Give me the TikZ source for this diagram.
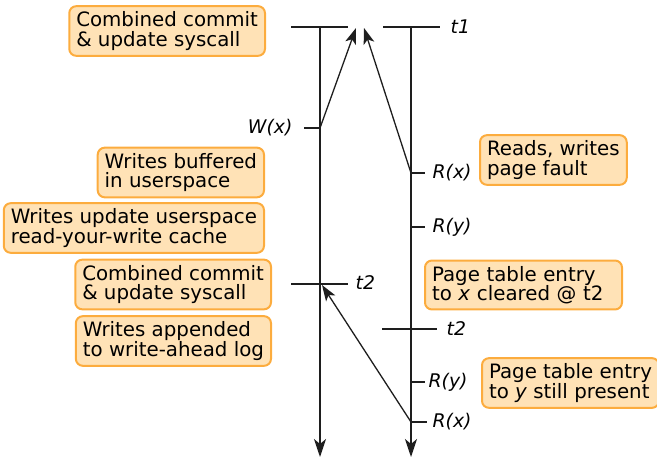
\documentclass[tikz,border=0pt]{standalone}
\usepackage{fontspec}
\setmainfont{DejaVu Sans}
\usetikzlibrary{arrows.meta}
\definecolor{noteedge}{RGB}{252,172,62}
\definecolor{notefill}{RGB}{255,226,182}
\definecolor{ink}{RGB}{30,30,30}
\begin{document}
\begin{tikzpicture}[x=1pt,y=-1pt,line width=1.3pt,
  note/.style={draw=noteedge,fill=notefill,line width=2pt,rounded corners=7pt,
    align=left,inner xsep=7pt,inner ysep=5.5pt,font=\fontsize{19.8}{19.5}\selectfont},
  lbl/.style={inner sep=0pt,font=\fontsize{18.8}{19}\selectfont\itshape},
  timeline/.style={draw=ink,-{Stealth[length=18pt,width=12pt,inset=5pt]}},
  msg/.style={draw=ink,-{Stealth[length=16pt,width=11pt,inset=4pt]}}]
  \useasboundingbox (0,0) rectangle (657,457);
  % the two time lines
  \coordinate (lt) at (320,27);
  \coordinate (lb) at (320,457);
  \coordinate (rt) at (411,27);
  \coordinate (rb) at (411,457);
  \draw[timeline](lt)--(lb);
  \draw[timeline](rt)--(rb);
  % events
  \coordinate (wx) at (320,128);
  \coordinate (rx) at (411,173);
  \coordinate (ry) at (411,227);
  \coordinate (lt2) at (320,284);
  \coordinate (rt2) at (411,329);
  \coordinate (ryy) at (411,382);
  \coordinate (rxx) at (411,422);
  \coordinate (c1) at (356,28);
  \coordinate (c2) at (364,28);
  \coordinate (c3) at (322,285);
  % ticks
  \draw[ink](291,27)--(348,27);
  \draw[ink](383,27)--(440,27);
  \draw[ink](wx)--++(-16,0);
  \draw[ink](rx)--++(14,0);
  \draw[ink](ry)--++(14,0);
  \draw[ink](291,284)--(348,284);
  \draw[ink](382,329)--(437,329);
  \draw[ink](ryy)--++(14,0);
  \draw[ink](rxx)--++(16,0);
  % messages
  \draw[msg](wx)--(c1);
  \draw[msg](rx)--(c2);
  \draw[msg](rxx)--(c3);
  % labels
  \node[lbl,anchor=west] (t1) at (450,27) {t1};
  \node[lbl,anchor=east] (w) at (293,128) {W(x)};
  \node[lbl,anchor=west] (r1) at (432,173) {R(x)};
  \node[lbl,anchor=west] (r2) at (432,227) {R(y)};
  \node[lbl,anchor=west] (t2a) at (355,283) {t2};
  \node[lbl,anchor=west] (t2b) at (446,329) {t2};
  \node[lbl,anchor=west] (r3) at (428,382) {R(y)};
  \node[lbl,anchor=west] (r4) at (432,422) {R(x)};
  % notes
  \node[note,anchor=east] (commit1) at (266,31) {Combined commit\\\& update syscall};
  \node[note,anchor=east] (buffer) at (265,172.5) {Writes buffered\\in userspace};
  \node[note,anchor=east] (cache) at (265,228) {Writes update userspace\\read-your-write cache};
  \node[note,anchor=east] (commit2) at (272,284.5) {Combined commit\\\& update syscall};
  \node[note,anchor=east] (wal) at (272,341) {Writes appended\\to write-ahead log};
  \node[note,anchor=west] (fault) at (479,160) {Reads, writes\\page fault};
  \node[note,anchor=west,text width=183pt] (clear) at (424,285) {Page table entry\\to \textit{x} cleared @ t2};
  \node[note,anchor=west] (present) at (481,383) {Page table entry\\to \textit{y} still present};
\end{tikzpicture}
\end{document}
